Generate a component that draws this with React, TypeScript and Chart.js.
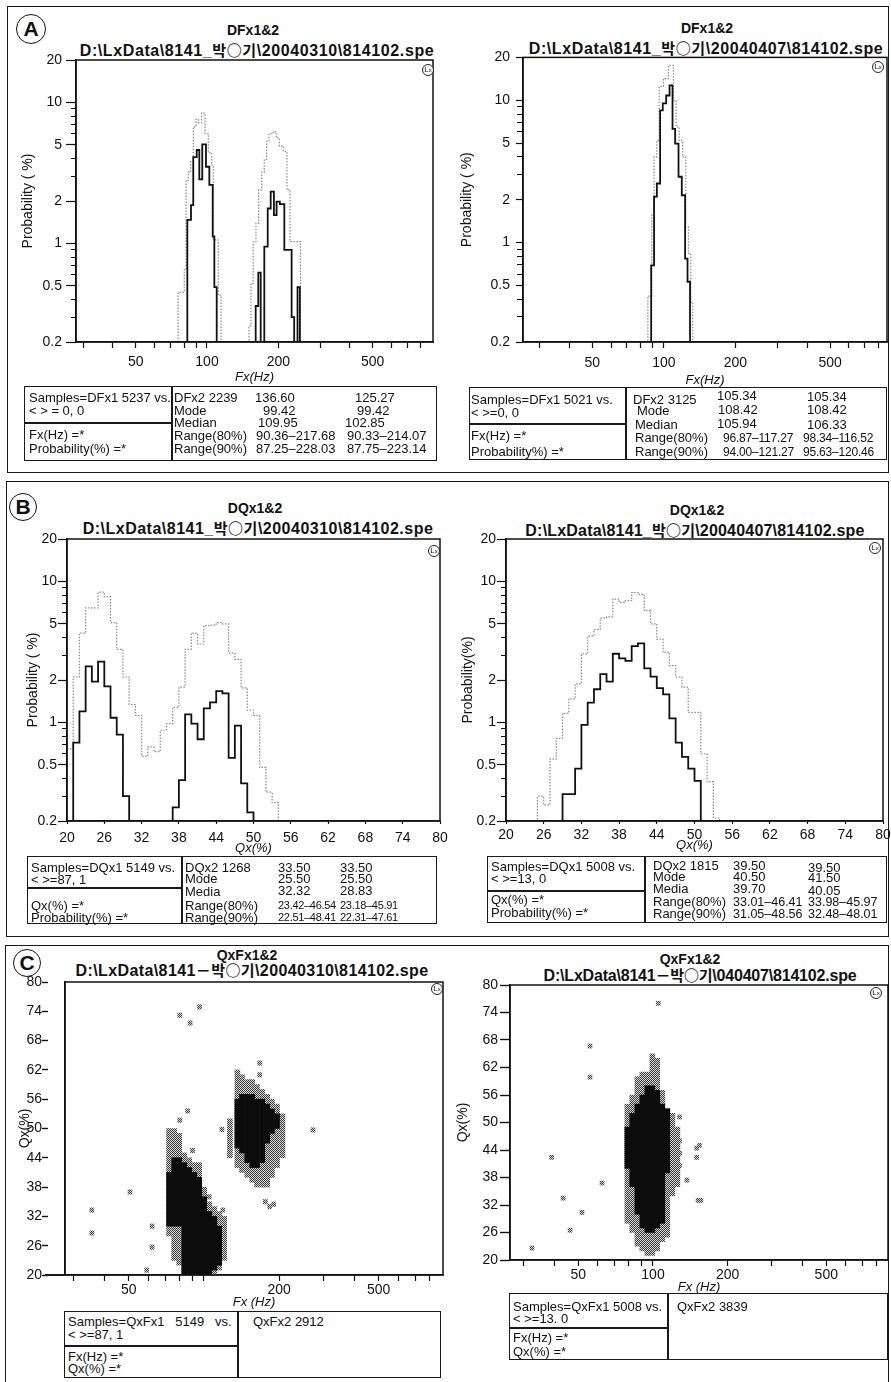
import React, { useEffect, useRef } from 'react';
import { Chart, registerables } from 'chart.js';
Chart.register(...registerables);

const FONT = '"Liberation Sans", Arial, "Noto Sans CJK KR", "DejaVu Sans", sans-serif';
const CJK = '"Noto Sans CJK KR", "Noto Sans CJK JP", sans-serif';

// ---------------- DATA ----------------
// Panel A : DFx histograms. Step left edges (Hz) and probability (%)
const aLeftFx1 = [28, 82.6, 85.6, 87.5, 90.5, 92.8, 95.5, 99, 102.3, 105.7, 107.4, 109.9, 160.5, 164.6, 168.5, 174.5, 180.4, 185.7, 191.6, 196.6, 203, 212, 227.6, 233.3, 241, 246.5, 899];
const aLeftP1 = [0.2, 1.47, 1.87, 4.1, 4.6, 2.85, 5.05, 3.5, 2.6, 1.12, 0.49, 0.2, 0.36, 0.62, 0.2, 0.95, 1.77, 2.33, 1.59, 1.98, 1.9, 0.9, 0.3, 0.2, 0.49, 0.2, 0.2];
const aLeftFx2 = [28, 75.5, 80.2, 81.6, 83.4, 85.4, 87.5, 89.9, 91.9, 94.9, 98.1, 101.3, 104.7, 106.3, 111.6, 114.6, 150.4, 153.3, 156.7, 160.9, 165.2, 170.2, 174.5, 178.5, 182.5, 190, 196, 202, 210, 217.5, 224, 248, 899];
const aLeftP2 = [0.2, 0.45, 0.65, 2.8, 3.2, 3.8, 6.7, 7.6, 7.2, 8.4, 6.0, 4.4, 3.6, 1.06, 0.43, 0.2, 0.26, 0.52, 1.03, 1.39, 2.4, 3.2, 3.9, 5.3, 6.0, 6.2, 5.6, 4.9, 4.5, 2.4, 1.03, 0.2, 0.2];
const aRightFx1 = [25.6, 88.5, 91.0, 93.5, 96.5, 99, 102.3, 105.7, 108.8, 111.6, 115.3, 119, 122.9, 125.8, 128.9, 867];
const aRightP1 = [0.2, 0.69, 2.1, 2.6, 8.5, 9.5, 10.8, 12.7, 6.3, 4.96, 2.9, 2.15, 0.77, 0.53, 0.2, 0.2];
const aRightFx2 = [25.6, 85.7, 89, 91, 93.5, 95.6, 99.7, 104.6, 109.8, 112.6, 116, 120, 123.7, 126.9, 129.8, 132.4, 867];
const aRightP2 = [0.2, 0.42, 1.56, 4.0, 5.2, 12.5, 14.2, 17.6, 10, 6.5, 5.2, 4.0, 1.29, 0.84, 0.38, 0.2, 0.2];

// Panel B : DQx histograms. Step left edges (Qx %) and probability (%)
const bLeftQx1 = [20, 21, 22, 23, 24, 25, 26, 27, 28, 29, 30, 37, 38, 39, 40, 41, 42, 43, 44, 45, 46, 47, 48, 49, 50, 80];
const bLeftP1 = [0.2, 0.72, 1.2, 2.5, 1.95, 2.7, 1.8, 1.08, 0.82, 0.3, 0.2, 0.25, 0.39, 1.14, 0.98, 0.76, 1.26, 1.39, 1.67, 1.61, 0.56, 0.95, 0.37, 0.23, 0.2, 0.2];
const bLeftQx2 = [20, 21, 22, 23, 24, 25, 26, 27, 28, 29, 30, 31, 32, 33, 34, 35, 36, 37, 38, 39, 40, 41, 42, 43, 44, 45, 46, 47, 48, 49, 50, 51, 52, 53, 54, 80];
const bLeftP2 = [0.65, 2.1, 4.3, 6.5, 6.5, 8.4, 7.8, 5.1, 3.3, 2.1, 1.34, 1.12, 0.575, 0.67, 0.62, 0.88, 0.98, 1.28, 1.78, 3.3, 4.3, 3.6, 4.86, 4.9, 5.1, 5.0, 3.1, 2.8, 1.76, 1.22, 1.12, 0.48, 0.32, 0.27, 0.2, 0.2];
const bRightQx1 = [20, 29, 30, 31, 32, 33, 34, 35, 36, 37, 38, 39, 40, 41, 42, 43, 44, 45, 46, 47, 48, 49, 50, 51, 80];
const bRightP1 = [0.2, 0.31, 0.31, 0.47, 0.96, 1.38, 1.72, 2.2, 1.95, 3.07, 2.85, 2.73, 3.48, 3.64, 2.42, 2.11, 1.75, 1.58, 1.07, 0.72, 0.57, 0.47, 0.385, 0.2, 0.2];
const bRightQx2 = [20, 25, 26, 27, 28, 29, 30, 31, 32, 33, 34, 35, 36, 37, 38, 39, 40, 41, 42, 43, 44, 45, 46, 47, 48, 49, 50, 51, 52, 53, 54, 80];
const bRightP2 = [0.2, 0.3, 0.26, 0.55, 0.77, 1.16, 1.47, 1.88, 3.06, 4.1, 4.55, 5.5, 5.6, 7.5, 7.1, 7.3, 8.35, 8.1, 6.2, 5.0, 3.9, 3.14, 2.53, 2.1, 1.78, 1.18, 1.18, 0.6, 0.38, 0.21, 0.2, 0.2];

// Panel C : QxFx 2-D histograms. Columns (Hz) with Qx ranges, plus isolated cells
const cLeftGrayHz = [72.5, 76, 79.6, 83.4, 87.3, 91.4, 95.7, 100.2, 105, 110, 115, 120.4, 127, 136, 142, 149, 156, 163, 171, 179, 187, 196, 206];
const cLeftGrayLo = [28, 23, 22, 20, 20, 20, 20, 20, 20, 20, 21, 23, 44, 42, 41, 40, 39, 38, 38, 38, 40, 42, 44];
const cLeftGrayHi = [50, 50, 49, 45, 44, 43, 43, 38, 35, 34, 33, 32, 52, 62, 61, 60, 60, 59, 58, 57, 56, 55, 53];
const cLeftBlackHz = [72.5, 76, 79.6, 83.4, 87.3, 91.4, 95.7, 100.2, 105, 110, 115, 136, 142, 149, 156, 163, 171, 179, 187, 196];
const cLeftBlackLo = [30, 30, 30, 20, 20, 20, 20, 20, 20, 21, 22, 46, 45, 43, 42, 42, 43, 47, 49, 50];
const cLeftBlackHi = [41, 44, 44, 43, 42, 41, 40, 36, 33, 32, 30, 56, 57, 57, 57, 56, 56, 55, 54, 53];
const cLeftOutHz = [35.6, 35.6, 50.6, 62, 62, 59, 80, 88, 96, 167, 167, 80, 86, 90, 105, 119, 118, 273, 176, 183, 190, 160];
const cLeftOutQx = [33.3, 28.6, 37, 30, 25.7, 21, 73.2, 71.6, 74.9, 63.4, 61, 51.7, 53.6, 45.5, 36, 33.3, 49.8, 49.7, 35, 34, 34.5, 39.5];

const cRightGrayHz = [78.8, 82.5, 86.5, 90.6, 94.9, 99.4, 104, 109, 114.2, 119.7, 125.4];
const cRightGrayLo = [28, 26, 23, 22, 21, 21, 22, 24, 25, 34, 36];
const cRightGrayHi = [54, 56, 60, 61, 61, 65, 64, 57, 53, 52, 49];
const cRightBlackHz = [78.8, 82.5, 86.5, 90.6, 94.9, 99.4, 104, 109, 114.2];
const cRightBlackLo = [40, 36, 30, 27, 26, 26, 27, 28, 39];
const cRightBlackHi = [49, 52, 54, 56, 58, 58, 57, 54, 53];
const cRightOutHz = [105, 55.7, 55.7, 39, 43.4, 51.7, 62.3, 46.3, 32.5, 128, 128, 128, 128, 137, 150, 154, 150, 152, 156];
const cRightOutQx = [76, 66.7, 59.9, 42.4, 33.5, 30.4, 36.8, 26.5, 22.6, 51.2, 46, 43.3, 40.6, 37.4, 44.4, 45, 42.4, 33, 33];

// Tick values
const fxTicks = [30, 40, 50, 60, 70, 80, 90, 100, 200, 300, 400, 500, 600, 700, 800];
const fxLabels = [50, 100, 200, 500];
const fxLabelsC1 = [50, 200, 500];
const probMajor = [0.2, 0.5, 1, 2, 5, 10, 20];
const probMinor = [0.3, 0.4, 0.6, 0.7, 0.8, 0.9, 3, 4, 6, 7, 8, 9];
const qxTicks = [20, 26, 32, 38, 44, 50, 56, 62, 68, 74, 80];

// ---------------- HELPERS ----------------
type Geo = { l: number; t: number; r: number; b: number; yTitleX: number; xTitleY: number };

function canvasBox(g: Geo) {
  const left = Math.floor(g.yTitleX - 9);
  const top = g.t - 14;
  const right = g.r + 14;
  const bottom = Math.ceil(g.xTitleY + 9);
  return {
    left, top, width: right - left, height: bottom - top,
    yW: g.l - left, xH: bottom - g.b,
    yTitlePad: g.yTitleX - left - 8.4, xTitlePad: bottom - g.xTitleY - 7.8,
  };
}

const setTicks = (list: number[]) => (s: any) => { s.ticks = list.map((v) => ({ value: v })); };
const pts = (xs: number[], ys: number[]) => xs.map((x, i) => ({ x, y: ys[i] }));
const bars = (xs: number[], lo: number[], hi: number[]) => xs.map((x, i) => ({ x, y: [lo[i], hi[i]] }));
const cells = (xs: number[], q: number[]) => xs.map((x, i) => ({ x, y: [q[i] - 0.45, q[i] + 0.45] }));

const framePlugin = {
  id: 'frame',
  afterDraw(chart: any) {
    const { ctx, chartArea: a } = chart;
    ctx.save();
    ctx.strokeStyle = '#111';
    ctx.lineWidth = 1.5;
    ctx.strokeRect(a.left, a.top, a.right - a.left, a.bottom - a.top);
    ctx.restore();
  },
};

const tickFont = { family: FONT, size: 14 };
const titleFont = { family: FONT, size: 14 };
const xTitleFont = { family: FONT, size: 13, style: 'italic' as const };

function baseOptions() {
  return {
    responsive: false, animation: false, devicePixelRatio: 1, events: [],
    plugins: { legend: { display: false }, tooltip: { enabled: false } },
    layout: { padding: { left: 0, top: 14, right: 14, bottom: 0 } },
  };
}

type HistSpec = {
  geo: Geo; xLog: boolean; xMin: number; xMax: number; xTicks: number[]; xLabels: number[];
  xTitle: string; yTitle: string; yMajorLen: number; yMinorLen: number; yPad: number;
  xTickLen: number; xPad: number;
  x1: number[]; y1: number[]; x2: number[]; y2: number[];
};

function histConfig(s: HistSpec) {
  const cb = canvasBox(s.geo);
  return {
    type: 'scatter',
    data: {
      datasets: [
        { data: pts(s.x1, s.y1), showLine: true, stepped: true, borderColor: '#111', borderWidth: 1.8, pointRadius: 0, order: 0 },
        { data: pts(s.x2, s.y2), showLine: true, stepped: true, borderColor: '#8a8a8a', borderWidth: 1.2, borderDash: [1.5, 1.5], pointRadius: 0, order: 1 },
      ],
    },
    options: {
      ...baseOptions(),
      scales: {
        x: {
          type: s.xLog ? 'logarithmic' : 'linear', min: s.xMin, max: s.xMax,
          afterBuildTicks: setTicks(s.xTicks),
          ticks: { autoSkip: false, maxRotation: 0, font: tickFont, color: '#111', padding: s.xPad,
            callback: (v: number) => (s.xLabels.includes(v) ? String(v) : '') },
          grid: { drawOnChartArea: false, drawTicks: true, tickLength: s.xTickLen, tickColor: '#111', tickWidth: 1.2 },
          border: { display: true, color: '#111', width: 1.5 },
          title: { display: true, text: s.xTitle, font: xTitleFont, color: '#111', padding: { top: 0, bottom: cb.xTitlePad } },
          afterFit: (sc: any) => { sc.height = cb.xH; },
        },
        y: {
          type: 'logarithmic', min: 0.2, max: 20, position: 'left', weight: 1,
          afterBuildTicks: setTicks(probMajor),
          ticks: { autoSkip: false, font: tickFont, color: '#111', padding: s.yPad, callback: (v: number) => String(v) },
          grid: { drawOnChartArea: false, tickLength: s.yMajorLen, tickColor: '#111', tickWidth: 1.2 },
          border: { display: true, color: '#111', width: 1.5 },
          title: { display: true, text: s.yTitle, font: titleFont, color: '#111', padding: { top: cb.yTitlePad, bottom: 0 } },
          afterFit: (sc: any) => { sc.width = cb.yW; },
        },
        yMinor: {
          type: 'logarithmic', min: 0.2, max: 20, position: 'left', weight: 0,
          afterBuildTicks: setTicks(probMinor),
          ticks: { display: false, autoSkip: false },
          grid: { drawOnChartArea: false, tickLength: s.yMinorLen, tickColor: '#111', tickWidth: 1 },
          border: { display: false },
          afterFit: (sc: any) => { sc.width = 0; },
        },
      },
    },
    plugins: [framePlugin],
  };
}

function makePattern(ctx: CanvasRenderingContext2D) {
  const c = document.createElement('canvas');
  c.width = 2; c.height = 2;
  const g = c.getContext('2d')!;
  g.fillStyle = '#d8d8d8'; g.fillRect(0, 0, 2, 2);
  g.fillStyle = '#3a3a3a'; g.fillRect(0, 0, 1, 1); g.fillRect(1, 1, 1, 1);
  return ctx.createPattern(c, 'repeat');
}

type ScatSpec = {
  geo: Geo; xMin: number; xMax: number; xLabels: number[]; yTickLen: number; yPad: number; yDash: number[];
  gHz: number[]; gLo: number[]; gHi: number[]; kHz: number[]; kLo: number[]; kHi: number[]; oHz: number[]; oQx: number[];
};

function scatConfig(s: ScatSpec, ctx: CanvasRenderingContext2D) {
  const cb = canvasBox(s.geo);
  const pat = makePattern(ctx);
  return {
    type: 'bar',
    data: {
      datasets: [
        { data: bars(s.kHz, s.kLo, s.kHi), backgroundColor: '#0c0c0c', barThickness: 5, grouped: false, borderWidth: 0, order: 0 },
        { data: bars(s.gHz, s.gLo, s.gHi), backgroundColor: pat, barThickness: 5, grouped: false, borderWidth: 0, order: 1 },
        { data: cells(s.oHz, s.oQx), backgroundColor: pat, barThickness: 4, grouped: false, borderWidth: 0, order: 1 },
      ],
    },
    options: {
      ...baseOptions(),
      indexAxis: 'x',
      scales: {
        x: {
          type: 'logarithmic', min: s.xMin, max: s.xMax, offset: false,
          afterBuildTicks: setTicks(fxTicks),
          ticks: { autoSkip: false, maxRotation: 0, font: tickFont, color: '#111', padding: 0.6,
            callback: (v: number) => (s.xLabels.includes(v) ? String(v) : '') },
          grid: { offset: false, drawOnChartArea: false, drawTicks: true, tickLength: 6, tickColor: '#111', tickWidth: 1.2 },
          border: { display: true, color: '#111', width: 1.5 },
          title: { display: true, text: 'Fx (Hz)', font: xTitleFont, color: '#111', padding: { top: 0, bottom: cb.xTitlePad } },
          afterFit: (sc: any) => { sc.height = cb.xH; },
        },
        y: {
          type: 'linear', min: 20, max: 80, position: 'left',
          afterBuildTicks: setTicks(qxTicks),
          ticks: { autoSkip: false, font: tickFont, color: '#111', padding: s.yPad, callback: (v: number) => String(v) },
          grid: { drawOnChartArea: false, tickLength: s.yTickLen, tickColor: '#111', tickWidth: 1.4, tickBorderDash: s.yDash, tickBorderDashOffset: 0 },
          border: { display: true, color: '#111', width: 1.5 },
          title: { display: true, text: 'Qx(%)', font: titleFont, color: '#111', padding: { top: cb.yTitlePad, bottom: 0 } },
          afterFit: (sc: any) => { sc.width = cb.yW; },
        },
      },
    },
    plugins: [framePlugin],
  };
}

function ChartCanvas({ geo, build }: { geo: Geo; build: (ctx: CanvasRenderingContext2D) => any }) {
  const ref = useRef<HTMLCanvasElement>(null);
  const cb = canvasBox(geo);
  useEffect(() => {
    const c = ref.current!;
    const ctx = c.getContext('2d')!;
    const chart = new Chart(ctx, build(ctx));
    return () => chart.destroy();
  }, []);
  return (
    <canvas ref={ref} width={cb.width} height={cb.height}
      style={{ position: 'absolute', left: cb.left, top: cb.top, width: cb.width, height: cb.height }} />
  );
}

function Txt({ x, y, text, size = 13, bold = false, center = false, ls = 0, children }:
  { x: number; y: number; text?: string; size?: number; bold?: boolean; center?: boolean; ls?: number; children?: any }) {
  return (
    <div style={{
      position: 'absolute', left: x, top: y - size * 0.6, fontSize: size, lineHeight: `${size * 1.2}px`,
      fontWeight: bold ? 700 : 400, whiteSpace: 'pre', letterSpacing: ls, fontFamily: FONT, color: '#111',
      transform: center ? 'translateX(-50%)' : undefined,
    }}>{text}{children}</div>
  );
}

function Subtitle({ x, y, pre, kor, post, ls }: { x: number; y: number; pre: string; kor: string; post: string; ls: number }) {
  return (
    <Txt x={x} y={y} size={16} bold center ls={ls}>
      {pre}<span style={{ fontFamily: CJK, fontSize: 15 }}>{kor}</span>{post}
    </Txt>
  );
}

function Frame({ l, t, r, b, w = 1.5 }: { l: number; t: number; r: number; b: number; w?: number }) {
  return <div style={{ position: 'absolute', left: l, top: t, width: r - l, height: b - t, border: `${w}px solid #1a1a1a`, boxSizing: 'border-box' }} />;
}
function HLine({ x1, x2, y }: { x1: number; x2: number; y: number }) {
  return <div style={{ position: 'absolute', left: x1, top: y - 0.75, width: x2 - x1, height: 1.5, background: '#1a1a1a' }} />;
}
function VLine({ x, y1, y2 }: { x: number; y1: number; y2: number }) {
  return <div style={{ position: 'absolute', left: x - 0.75, top: y1, width: 1.5, height: y2 - y1, background: '#1a1a1a' }} />;
}

type Item = [number, number, string, number?, number?];
function StatTable({ box, divX, splitY, items }: { box: { l: number; t: number; r: number; b: number }; divX: number; splitY: number; items: Item[] }) {
  return (
    <>
      <Frame {...box} />
      <VLine x={divX} y1={box.t} y2={box.b} />
      <HLine x1={box.l} x2={divX} y={splitY} />
      {items.map(([x, y, t, sz, ls], i) => <Txt key={i} x={x} y={y} text={t} size={sz ?? 13} ls={ls ?? 0} />)}
    </>
  );
}

function Letter({ x, y, r, ch }: { x: number; y: number; r: number; ch: string }) {
  return (
    <div style={{
      position: 'absolute', left: x - r, top: y - r, width: 2 * r, height: 2 * r, borderRadius: '50%',
      border: '1.8px solid #111', boxSizing: 'border-box', fontFamily: FONT, fontWeight: 700, fontSize: 21,
      lineHeight: `${2 * r - 3}px`, textAlign: 'center', color: '#111', background: '#fff',
    }}>{ch}</div>
  );
}

function LxMark({ x, y }: { x: number; y: number }) {
  return (
    <div style={{
      position: 'absolute', left: x - 6, top: y - 6, width: 12, height: 12, borderRadius: '50%',
      border: '1px solid #222', boxSizing: 'border-box', fontFamily: FONT, fontSize: 8, lineHeight: '10px',
      textAlign: 'center', color: '#111', background: '#fff',
    }}>L<span style={{ fontSize: 6 }}>x</span></div>
  );
}

// ---------------- LAYOUT ----------------
const gA1: Geo = { l: 76, t: 60, r: 433, b: 342, yTitleX: 28, xTitleY: 377 };
const gA2: Geo = { l: 523, t: 57, r: 887, b: 342, yTitleX: 467, xTitleY: 380 };
const gB1: Geo = { l: 67, t: 539, r: 440, b: 821, yTitleX: 33, xTitleY: 848 };
const gB2: Geo = { l: 506, t: 539, r: 883, b: 821, yTitleX: 468, xTitleY: 845 };
const gC1: Geo = { l: 65, t: 982, r: 443, b: 1275, yTitleX: 25, xTitleY: 1302 };
const gC2: Geo = { l: 510, t: 985, r: 888, b: 1260, yTitleX: 463, xTitleY: 1287 };

export default function App() {
  return (
    <div style={{ position: 'absolute', left: 0, top: 0, width: 891, height: 1382, overflow: 'hidden', background: '#fff' }}>
      {/* panel frames */}
      <Frame l={7} t={6} r={889} b={473} />
      <Frame l={6} t={481} r={889} b={937} />
      <Frame l={5} t={945} r={889} b={1395} />

      <Letter x={31} y={29} r={15} ch="A" />
      <Letter x={23} y={507} r={14} ch="B" />
      <Letter x={27} y={963} r={14} ch="C" />

      {/* titles */}
      <Txt x={253} y={30} text="DFx1&2" size={14} bold center />
      <Subtitle x={257} y={50} pre={'D:\\LxData\\8141_'} kor="박○기" post={'\\20040310\\814102.spe'} ls={0.6} />
      <Txt x={707} y={28} text="DFx1&2" size={14} bold center />
      <Subtitle x={706} y={48} pre={'D:\\LxData\\8141_'} kor="박○기" post={'\\20040407\\814102.spe'} ls={0.6} />
      <Txt x={255} y={508} text="DQx1&2" size={14} bold center />
      <Subtitle x={258} y={528} pre={'D:\\LxData\\8141_'} kor="박○기" post={'\\20040310\\814102.spe'} ls={0.5} />
      <Txt x={697} y={510} text="DQx1&2" size={14} bold center />
      <Subtitle x={695} y={530} pre={'D:\\LxData\\8141_'} kor="박○기" post={'\\20040407\\814102.spe'} ls={0.2} />
      <Txt x={247} y={955} text="QxFx1&2" size={14} bold center />
      <Subtitle x={252} y={970} pre={'D:\\LxData\\8141'} kor="－박○기" post={'\\20040310\\814102.spe'} ls={0.4} />
      <Txt x={690} y={959} text="QxFx1&2" size={14} bold center />
      <Subtitle x={700} y={975} pre={'D:\\LxData\\8141'} kor="－박○기" post={'\\040407\\814102.spe'} ls={-0.2} />

      {/* charts */}
      <ChartCanvas geo={gA1} build={() => histConfig({
        geo: gA1, xLog: true, xMin: 28, xMax: 899, xTicks: fxTicks, xLabels: fxLabels, xTitle: 'Fx(Hz)', yTitle: 'Probability ( %)',
        yMajorLen: 10, yMinorLen: 5, yPad: 4, xTickLen: 6, xPad: 5.6, x1: aLeftFx1, y1: aLeftP1, x2: aLeftFx2, y2: aLeftP2,
      })} />
      <ChartCanvas geo={gA2} build={() => histConfig({
        geo: gA2, xLog: true, xMin: 25.6, xMax: 867, xTicks: fxTicks, xLabels: fxLabels, xTitle: 'Fx(Hz)', yTitle: 'Probability ( %)',
        yMajorLen: 7, yMinorLen: 6, yPad: 6, xTickLen: 6, xPad: 6.6, x1: aRightFx1, y1: aRightP1, x2: aRightFx2, y2: aRightP2,
      })} />
      <ChartCanvas geo={gB1} build={() => histConfig({
        geo: gB1, xLog: false, xMin: 20, xMax: 80, xTicks: qxTicks, xLabels: qxTicks, xTitle: 'Qx(%)', yTitle: 'Probability ( %)',
        yMajorLen: 9, yMinorLen: 5, yPad: 1, xTickLen: 3, xPad: 5.6, x1: bLeftQx1, y1: bLeftP1, x2: bLeftQx2, y2: bLeftP2,
      })} />
      <ChartCanvas geo={gB2} build={() => histConfig({
        geo: gB2, xLog: false, xMin: 20, xMax: 80, xTicks: qxTicks, xLabels: qxTicks, xTitle: 'Qx(%)', yTitle: 'Probability(%)',
        yMajorLen: 9, yMinorLen: 5, yPad: 1, xTickLen: 3, xPad: 2.6, x1: bRightQx1, y1: bRightP1, x2: bRightQx2, y2: bRightP2,
      })} />
      <ChartCanvas geo={gC1} build={(ctx) => scatConfig({
        geo: gC1, xMin: 27.8, xMax: 904, xLabels: fxLabelsC1, yTickLen: 23, yPad: 0, yDash: [6, 40],
        gHz: cLeftGrayHz, gLo: cLeftGrayLo, gHi: cLeftGrayHi, kHz: cLeftBlackHz, kLo: cLeftBlackLo, kHi: cLeftBlackHi,
        oHz: cLeftOutHz, oQx: cLeftOutQx,
      }, ctx)} />
      <ChartCanvas geo={gC2} build={(ctx) => scatConfig({
        geo: gC2, xMin: 26.5, xMax: 887, xLabels: fxLabels, yTickLen: 10, yPad: 2, yDash: [],
        gHz: cRightGrayHz, gLo: cRightGrayLo, gHi: cRightGrayHi, kHz: cRightBlackHz, kLo: cRightBlackLo, kHi: cRightBlackHi,
        oHz: cRightOutHz, oQx: cRightOutQx,
      }, ctx)} />

      {/* x-axis line stub left of the C-left plot */}
      <HLine x1={45} x2={65} y={1275} />

      <LxMark x={428} y={70} />
      <LxMark x={878} y={67} />
      <LxMark x={434} y={551} />
      <LxMark x={875} y={548} />
      <LxMark x={437} y={989} />
      <LxMark x={876} y={993} />

      {/* stat tables */}
      <StatTable box={{ l: 24, t: 386, r: 437, b: 461 }} divX={172} splitY={423} items={[
        [29, 398, 'Samples=DFx1 5237 vs.'], [29, 411, '< > = 0, 0'], [29, 435, 'Fx(Hz) =*'], [29, 449, 'Probability(%) =*'],
        [174, 398, 'DFx2 2239'], [255, 398, '136.60'], [355, 398, '125.27'],
        [174, 411, 'Mode'], [263, 411, '99.42'], [357, 411, '99.42'],
        [174, 423, 'Median'], [258, 423, '109.95'], [345, 423, '102.85'],
        [174, 436, 'Range(80%)'], [256, 436, '90.36–217.68'], [347, 436, '90.33–214.07'],
        [174, 449, 'Range(90%)'], [256, 449, '87.25–228.03'], [347, 449, '87.75–223.14'],
      ]} />
      <StatTable box={{ l: 469, t: 387, r: 887, b: 460 }} divX={626} splitY={424} items={[
        [471, 400, 'Samples=DFx1 5021 vs.'], [471, 413, '< >=0, 0'], [471, 436, 'Fx(Hz) =*'], [471, 452, 'Probability%) =*'],
        [633, 400, 'DFx2 3125'], [717, 396, '105.34'], [807, 397, '105.34'],
        [637, 411, 'Mode'], [718, 410, '108.42'], [807, 410, '108.42'],
        [635, 425, 'Median'], [717, 424, '105.94'], [807, 425, '106.33'],
        [635, 438, 'Range(80%)'], [723, 438, '96.87–117.27', 12, -0.2], [803, 438, '98.34–116.52', 12, -0.2],
        [635, 452, 'Range(90%)'], [723, 452, '94.00–121.27', 12, -0.2], [803, 452, '95.63–120.46', 12, -0.2],
      ]} />
      <StatTable box={{ l: 27, t: 856, r: 437, b: 924 }} divX={182} splitY={888} items={[
        [31, 868, 'Samples=DQx1 5149 vs.'], [31, 880, '< >=87, 1'], [31, 906, 'Qx(%) =*'], [31, 918, 'Probability(%) =*'],
        [185, 868, 'DQx2 1268'], [278, 868, '33.50'], [340, 868, '33.50'],
        [185, 879, 'Mode'], [278, 879, '25.50'], [340, 879, '25.50'],
        [185, 892, 'Media'], [278, 891, '32.32'], [340, 891, '28.83'],
        [185, 906, 'Range(80%)'], [278, 906, '23.42–46.54', 11, -0.3], [340, 906, '23.18–45.91', 11, -0.3],
        [185, 918, 'Range(90%)'], [278, 918, '22.51–48.41', 11, -0.3], [340, 918, '22.31–47.61', 11, -0.3],
      ]} />
      <StatTable box={{ l: 487, t: 856, r: 887, b: 923 }} divX={645} splitY={891} items={[
        [491, 867, 'Samples=DQx1 5008 vs.'], [491, 879, '< >=13, 0'], [491, 900, 'Qx(%) =*'], [491, 913, 'Probability(%) =*'],
        [653, 866, 'DQx2 1815'], [733, 866, '39.50'], [808, 868, '39.50'],
        [653, 877, 'Mode'], [733, 877, '40.50'], [808, 878, '41.50'],
        [653, 889, 'Media'], [733, 889, '39.70'], [808, 891, '40.05'],
        [653, 902, 'Range(80%)'], [733, 902, '33.01–46.41', 12.5], [808, 902, '33.98–45.97', 12.5],
        [653, 914, 'Range(90%)'], [733, 914, '31.05–48.56', 12.5], [808, 914, '32.48–48.01', 12.5],
      ]} />
      <StatTable box={{ l: 64, t: 1311, r: 441, b: 1378 }} divX={238} splitY={1346} items={[
        [68, 1322, 'Samples=QxFx1   5149   vs.'], [68, 1335, '< >=87, 1'], [68, 1357, 'Fx(Hz) =*'], [68, 1369, 'Qx(%) =*'],
        [253, 1322, 'QxFx2 2912'],
      ]} />
      <StatTable box={{ l: 509, t: 1293, r: 888, b: 1360 }} divX={668} splitY={1328} items={[
        [513, 1307, 'Samples=QxFx1 5008 vs.'], [513, 1319, '< >=13. 0'], [513, 1338, 'Fx(Hz) =*'], [513, 1352, 'Qx(%) =*'],
        [677, 1307, 'QxFx2 3839'],
      ]} />
    </div>
  );
}
